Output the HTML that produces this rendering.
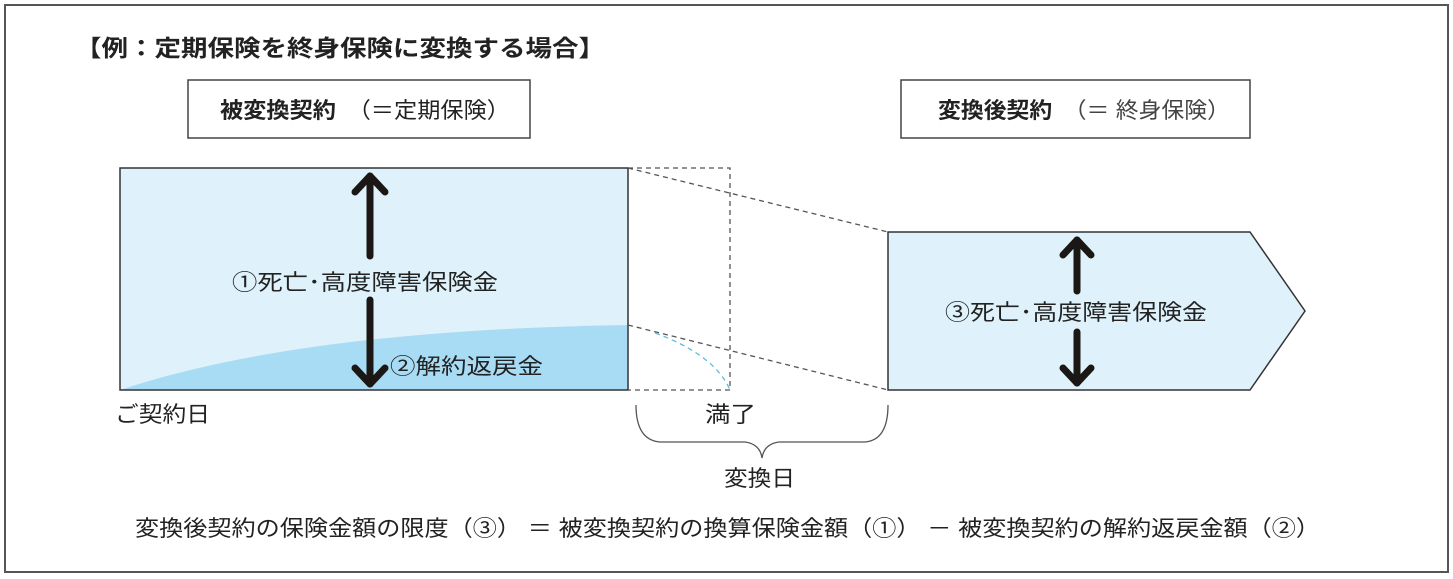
<!DOCTYPE html>
<html><head><meta charset="utf-8"><style>
html,body{margin:0;padding:0;background:#fff;}
svg{display:block;font-family:"Liberation Sans","Noto Sans CJK JP",sans-serif;}
</style></head><body>
<svg width="1453" height="579" viewBox="0 0 1453 579" xmlns="http://www.w3.org/2000/svg">
<rect x="5" y="5" width="1443" height="567" fill="#fff" stroke="#555" stroke-width="2"/>
<text x="75" y="56" font-size="23" font-weight="bold" fill="#222" textLength="530" lengthAdjust="spacingAndGlyphs">【例：定期保険を終身保険に変換する場合】</text>
<rect x="188" y="80" width="342" height="58" fill="#fff" stroke="#444" stroke-width="1.5"/>
<text x="220" y="118" font-size="22" fill="#222" textLength="290" lengthAdjust="spacingAndGlyphs"><tspan font-weight="bold">被変換契約</tspan><tspan>　（＝定期保険）</tspan></text>
<rect x="901" y="80" width="349" height="58" fill="#fff" stroke="#444" stroke-width="1.5"/>
<text x="938" y="118" font-size="22" fill="#222" textLength="292" lengthAdjust="spacingAndGlyphs"><tspan font-weight="bold">変換後契約</tspan><tspan fill="#444">　（＝ 終身保険）</tspan></text>
<rect x="120" y="168" width="508" height="222" fill="#dff2fb"/>
<path d="M120 390 Q300 330 628 325 L628 390 Z" fill="#a8dcf5"/>
<rect x="120" y="168" width="508" height="222" fill="none" stroke="#333" stroke-width="1.5"/>
<g stroke="#555" stroke-width="1.3" stroke-dasharray="5,4" fill="none">
<path d="M628 168 H730 V390 H628"/>
<path d="M628 168 L888 232"/>
<path d="M628 325 L888 390"/>
</g>
<path d="M655 333 Q715 355 730 390" fill="none" stroke="#5bbde0" stroke-width="1.3" stroke-dasharray="5,4"/>
<path d="M888 232 H1250 L1305 311 L1250 390 H888 Z" fill="#dff2fb" stroke="#333" stroke-width="1.5"/>
<g stroke="#1a1714" stroke-width="7" fill="none" stroke-linecap="round" stroke-linejoin="round">
<path d="M370 256 V176"/><path d="M355 192 L370 176 L385 192"/>
<path d="M370 300 V384"/><path d="M355 368 L370 384 L385 368"/>
<path d="M1077 291 V240"/><path d="M1063 255 L1077 240 L1091 255"/>
<path d="M1077 332 V383"/><path d="M1063 368 L1077 383 L1091 368"/>
</g>
<text x="232" y="290" font-size="22" fill="#222" textLength="266" lengthAdjust="spacingAndGlyphs">①死亡･高度障害保険金</text>
<text x="390" y="374" font-size="22" fill="#222" textLength="153" lengthAdjust="spacingAndGlyphs">②解約返戻金</text>
<text x="945" y="320" font-size="22" fill="#222" textLength="262" lengthAdjust="spacingAndGlyphs">③死亡･高度障害保険金</text>
<text x="115" y="422" font-size="22" fill="#222" textLength="95" lengthAdjust="spacingAndGlyphs">ご契約日</text>
<text x="705" y="422" font-size="22" fill="#222" textLength="51" lengthAdjust="spacingAndGlyphs">満了</text>
<path d="M636 405 Q636 440 660 442 L745 442 Q760 444 762 458 Q764 444 779 442 L865 442 Q888 440 888 405" fill="none" stroke="#555" stroke-width="1.3"/>
<text x="724" y="486" font-size="22" fill="#222" textLength="71" lengthAdjust="spacingAndGlyphs">変換日</text>
<text x="135" y="536" font-size="22" fill="#222" textLength="1185" lengthAdjust="spacingAndGlyphs">変換後契約の保険金額の限度（③） ＝ 被変換契約の換算保険金額（①） － 被変換契約の解約返戻金額（②）</text>
</svg>
</body></html>
